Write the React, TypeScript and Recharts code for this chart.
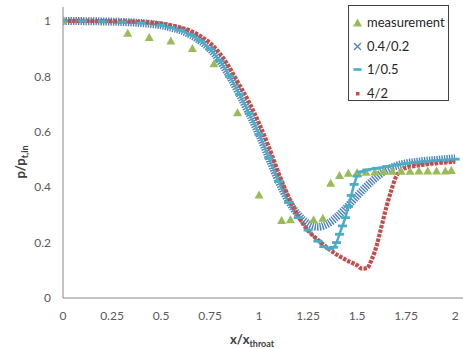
import React from 'react'
import { ComposedChart, Line, Scatter, XAxis, YAxis } from 'recharts'

// measured wall pressure
const measX = [0, 0.33, 0.44, 0.55, 0.66, 0.77, 0.89, 1.0, 1.115, 1.16, 1.278, 1.325, 1.365, 1.41, 1.455, 1.5, 1.545, 1.59, 1.635, 1.68, 1.725, 1.77, 1.815, 1.86, 1.905, 1.95, 1.98]
const measY = [1.0, 0.955, 0.94, 0.927, 0.9, 0.845, 0.668, 0.372, 0.28, 0.282, 0.282, 0.288, 0.414, 0.442, 0.45, 0.452, 0.454, 0.455, 0.456, 0.457, 0.457, 0.457, 0.458, 0.458, 0.458, 0.458, 0.46]

// 0.4/0.2
const fineX = [0, 0.1, 0.2, 0.3, 0.4, 0.5, 0.55, 0.6, 0.65, 0.7, 0.75, 0.8, 0.85, 0.9, 0.95, 1.0, 1.05, 1.1, 1.15, 1.2, 1.25, 1.3, 1.35, 1.4, 1.45, 1.5, 1.55, 1.6, 1.65, 1.7, 1.75, 1.8, 1.85, 1.9, 1.95, 2.0]
const fineY = [1.0, 0.999, 0.998, 0.996, 0.992, 0.984, 0.976, 0.966, 0.95, 0.928, 0.898, 0.855, 0.8, 0.735, 0.665, 0.59, 0.505, 0.42, 0.35, 0.3, 0.268, 0.257, 0.268, 0.295, 0.33, 0.368, 0.405, 0.437, 0.462, 0.477, 0.486, 0.491, 0.495, 0.498, 0.501, 0.504]

// 1/0.5
const midX = [0, 0.1, 0.2, 0.3, 0.4, 0.5, 0.55, 0.6, 0.65, 0.7, 0.75, 0.8, 0.85, 0.9, 0.95, 1.0, 1.05, 1.1, 1.15, 1.2, 1.25, 1.3, 1.33, 1.36, 1.38, 1.395, 1.41, 1.425, 1.44, 1.455, 1.47, 1.485, 1.5, 1.52, 1.55, 1.6, 1.65, 1.7, 1.75, 1.8, 1.85, 1.9, 1.95, 2.0]
const midY = [1.0, 0.999, 0.998, 0.996, 0.992, 0.984, 0.976, 0.966, 0.95, 0.928, 0.898, 0.855, 0.8, 0.735, 0.665, 0.59, 0.505, 0.42, 0.345, 0.29, 0.245, 0.205, 0.185, 0.178, 0.183, 0.2, 0.23, 0.26, 0.29, 0.33, 0.37, 0.41, 0.44, 0.455, 0.462, 0.468, 0.474, 0.48, 0.485, 0.49, 0.493, 0.496, 0.498, 0.501]

// 4/2
const coarseX = [0, 0.1, 0.2, 0.3, 0.4, 0.5, 0.55, 0.6, 0.65, 0.7, 0.75, 0.8, 0.85, 0.9, 0.95, 1.0, 1.05, 1.1, 1.15, 1.2, 1.25, 1.3, 1.35, 1.4, 1.45, 1.5, 1.525, 1.55, 1.575, 1.6, 1.625, 1.65, 1.675, 1.7, 1.725, 1.75, 1.8, 1.85, 1.9, 1.95, 2.0]
const coarseY = [1.0, 1.0, 0.999, 0.998, 0.996, 0.99, 0.984, 0.976, 0.964, 0.945, 0.92, 0.882, 0.83, 0.768, 0.705, 0.63, 0.545, 0.45, 0.365, 0.295, 0.243, 0.21, 0.18, 0.155, 0.135, 0.118, 0.106, 0.108, 0.14, 0.19, 0.26, 0.33, 0.39, 0.44, 0.46, 0.47, 0.477, 0.482, 0.486, 0.489, 0.492]

const xTicks = [0, 0.25, 0.5, 0.75, 1, 1.25, 1.5, 1.75, 2]
const yTicks = [0, 0.2, 0.4, 0.6, 0.8, 1]

const zip = (xs: number[], ys: number[]) => xs.map((x, i) => ({ x, y: ys[i] }))

const measData = zip(measX, measY)
const fineData = zip(fineX, fineY)
const midData = zip(midX, midY)
const coarseData = zip(coarseX, coarseY)

const GREEN = '#9BBB59'
const BLUE = '#4F81BD'
const CYAN = '#4BACC6'
const RED = '#C0504D'
const FONT = 'Lato, "Open Sans", sans-serif'

const Triangle = (props: any) => {
  const { cx, cy } = props
  if (cx == null || cy == null) return null
  return <polygon points={`${cx},${cy - 4.5} ${cx - 4.5},${cy + 3.5} ${cx + 4.5},${cy + 3.5}`} fill={GREEN} />
}

const Bar = (props: any) => {
  const { cx, cy, key } = props
  if (cx == null || cy == null) return <g key={key} />
  return <rect key={key} x={cx - 4.5} y={cy - 1.4} width={9} height={2.8} fill={CYAN} />
}

const legendItems = [
  { name: 'measurement', mark: <polygon points="4.5,0.5 0,8.5 9,8.5" fill={GREEN} /> },
  {
    name: '0.4/0.2',
    mark: (
      <g stroke={BLUE} strokeWidth={1.3}>
        <line x1={1} y1={1} x2={8} y2={8} />
        <line x1={1} y1={8} x2={8} y2={1} />
      </g>
    )
  },
  { name: '1/0.5', mark: <rect x={0.5} y={3.2} width={8} height={2.6} fill={CYAN} /> },
  { name: '4/2', mark: <rect x={3} y={3} width={3.5} height={3.5} fill={RED} /> }
]

export default function App() {
  return (
    <div style={{ position: 'relative', width: 463, height: 349, background: '#fff', fontFamily: FONT }}>
      <style>{'body{margin:0}'}</style>
      <ComposedChart width={463} height={349} margin={{ top: 7, right: 0, bottom: 0, left: 0 }}>
        <XAxis
          type="number"
          dataKey="x"
          domain={[0, 2.04]}
          ticks={xTicks}
          allowDataOverflow
          height={51}
          stroke="#868686"
          tickLine={false}
          tickSize={0}
          tickMargin={13}
          tick={{ fill: '#595959', fontSize: 12, fontFamily: FONT }}
          label={{
            content: (p: any) => {
              const vb = p.viewBox || { x: 63, y: 298 }
              return (
                <text x={vb.x + 167} y={vb.y + 46} fill="#404040" fontFamily={FONT} fontWeight="bold" fontSize={13}>
                  x/x
                  <tspan fontSize={9} dy={3}>throat</tspan>
                </text>
              )
            }
          }}
        />
        <YAxis
          type="number"
          dataKey="y"
          domain={[0, 1.05]}
          ticks={yTicks}
          allowDataOverflow
          width={63}
          stroke="#868686"
          tickLine={false}
          tickSize={0}
          tickMargin={12}
          tick={{ fill: '#595959', fontSize: 12, fontFamily: FONT }}
          label={{
            content: () => (
              <text
                x={0}
                y={0}
                transform="translate(25,162) rotate(-90)"
                textAnchor="middle"
                fill="#404040"
                fontFamily={FONT}
                fontWeight="bold"
                fontSize={13}
              >
                p/p
                <tspan fontSize={9} dy={3}>t,in</tspan>
              </text>
            )
          }}
        />
        <Scatter data={measData} dataKey="y" shape={<Triangle />} isAnimationActive={false} />
        <Line
          data={fineData}
          dataKey="y"
          type="monotone"
          stroke={BLUE}
          strokeWidth={8}
          strokeDasharray="1.4 1.1"
          dot={false}
          activeDot={false}
          isAnimationActive={false}
        />
        <Line
          data={midData}
          dataKey="y"
          type="monotone"
          stroke={CYAN}
          strokeWidth={2.5}
          dot={(p: any) => <Bar {...p} />}
          activeDot={false}
          isAnimationActive={false}
        />
        <Line
          data={coarseData}
          dataKey="y"
          type="monotone"
          stroke={RED}
          strokeWidth={4.2}
          strokeDasharray="3.4 1.2"
          dot={false}
          activeDot={false}
          isAnimationActive={false}
        />
      </ComposedChart>
      <div
        style={{
          position: 'absolute',
          left: 348,
          top: 5,
          width: 101,
          height: 96,
          border: '1px solid #404040',
          background: '#fff',
          boxSizing: 'border-box',
          paddingTop: 5
        }}
      >
        {legendItems.map((it) => (
          <div key={it.name} style={{ display: 'flex', alignItems: 'center', height: 23.5, paddingLeft: 4 }}>
            <svg width={10} height={9} style={{ marginRight: 4 }}>
              {it.mark}
            </svg>
            <span style={{ fontSize: 13, color: '#262626', lineHeight: '13px' }}>{it.name}</span>
          </div>
        ))}
      </div>
    </div>
  )
}
